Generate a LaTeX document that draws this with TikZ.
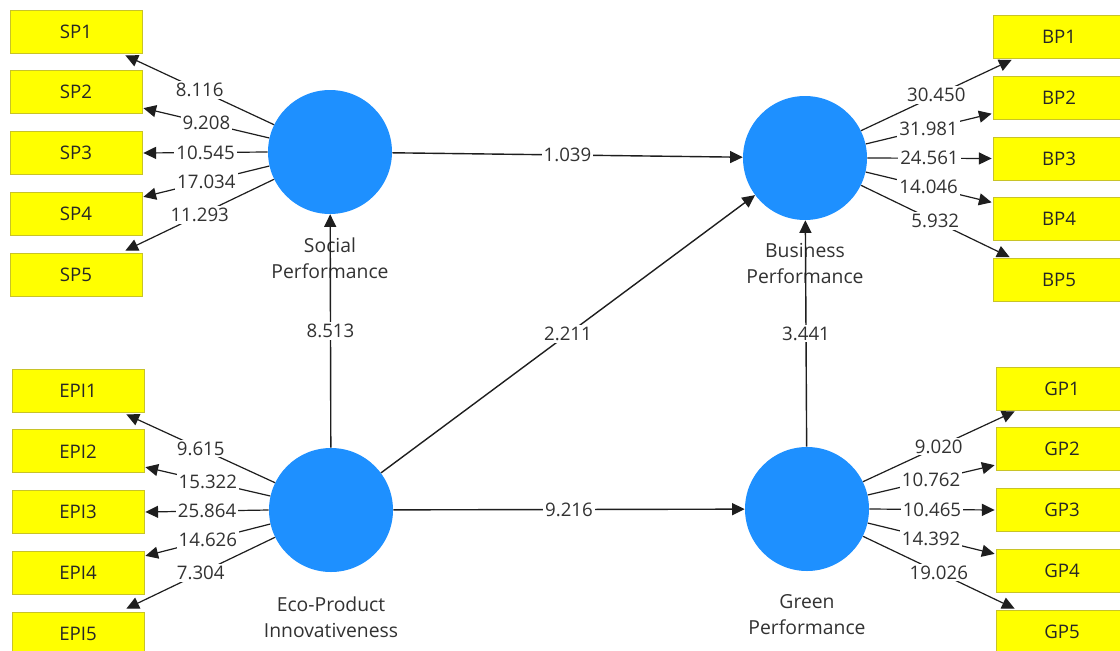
\documentclass[tikz,border=0pt]{standalone}
\usepackage{fontspec}
\setmainfont{Open Sans}
\usetikzlibrary{arrows.meta,calc}
\definecolor{lvblue}{RGB}{30,144,255}
\definecolor{indyellow}{RGB}{255,255,0}
\definecolor{indborder}{RGB}{200,195,40}
\definecolor{linegray}{RGB}{30,30,30}
\definecolor{txtgray}{RGB}{50,50,50}
\begin{document}
\begin{tikzpicture}[x=0.75pt,y=-0.75pt,
  lv/.style={circle,fill=lvblue,draw=none,minimum size=93pt,inner sep=0pt},
  ind/.style={rectangle,fill=indyellow,draw=indborder,line width=0.6pt,minimum width=99pt,minimum height=32.25pt,inner sep=0pt,font=\fontsize{14}{17}\selectfont,text=black!85},
  lvcaption/.style={align=center,font=\fontsize{14.5}{19.5}\selectfont,text=txtgray,inner sep=0pt},
  lbl/.style={fill=white,inner sep=1.5pt,font=\fontsize{14}{17}\selectfont,text=txtgray},
  arr/.style={draw=linegray,line width=1.05pt,-{Triangle[length=9.5pt,width=9pt]}},
  larr/.style={draw=linegray,line width=0.9pt,-{Triangle[length=9.5pt,width=9pt]}}]
\clip (0,0) rectangle (1120,650);
\fill[white] (0,0) rectangle (1120,650);

% latent variables
\node[lv] (SP) at (330,152) {};
\node[lv] (BP) at (805,158) {};
\node[lv] (EPI) at (331,510) {};
\node[lv] (GP) at (807,509) {};

% indicators
\foreach \i in {1,...,5}{
  \pgfmathsetmacro\ya{31.5+60.75*(\i-1)}
  \pgfmathsetmacro\yb{37+60.75*(\i-1)}
  \pgfmathsetmacro\yc{390.5+60.75*(\i-1)}
  \pgfmathsetmacro\yd{388.5+60.75*(\i-1)}
  \node[ind] (SP\i) at (76,\ya) {SP\i};
  \node[ind] (BP\i) at (1059,\yb) {BP\i};
  \node[ind] (EPI\i) at (78,\yc) {EPI\i};
  \node[ind] (GP\i) at (1062,\yd) {GP\i};
}

% captions
\node[lvcaption] (SPt) at (330,258) {Social\\Performance};
\node[lvcaption] (BPt) at (805,263.5) {Business\\Performance};
\node[lvcaption] (EPIt) at (331,617) {Eco-Product\\Innovativeness};
\node[lvcaption] (GPt) at (807,615) {Green\\Performance};

% structural paths
\draw[arr] (SP) -- (BP) node[lbl,midway]{1.039};
\draw[arr] (EPI) -- (SP) node[lbl,midway]{8.513};
\draw[arr] (EPI) -- (BP) node[lbl,midway]{2.211};
\draw[arr] (GP) -- (BP) node[lbl,midway]{3.441};
\draw[arr] (EPI) -- (GP) node[lbl,midway]{9.216};

% Social Performance loadings
\draw[larr] (SP.154) -- ($(SP1.south east)+(-17,2)$) node[lbl,midway]{8.116};
\draw[larr] (SP.167) -- ($(SP2.south east)+(1,-6)$) node[lbl,midway]{9.208};
\draw[larr] (SP.180) -- ($(SP3.east)+(1,0)$) node[lbl,midway]{10.545};
\draw[larr] (SP.193) -- ($(SP4.north east)+(1,5)$) node[lbl,midway]{17.034};
\draw[larr] (SP.206) -- ($(SP5.north east)+(-17,-2)$) node[lbl,midway]{11.293};

% Business Performance loadings
\draw[larr] (BP.26) -- ($(BP1.south west)+(19,1)$) node[lbl,midway]{30.450};
\draw[larr] (BP.13) -- ($(BP2.south west)+(-1,-6)$) node[lbl,midway]{31.981};
\draw[larr] (BP.0) -- ($(BP3.west)+(-1,0)$) node[lbl,midway]{24.561};
\draw[larr] (BP.-13) -- ($(BP4.north west)+(-1,5)$) node[lbl,midway]{14.046};
\draw[larr] (BP.-26) -- ($(BP5.north west)+(17,-1)$) node[lbl,midway]{5.932};

% Eco-Product Innovativeness loadings
\draw[larr] (EPI.154) -- ($(EPI1.south east)+(-18,2)$) node[lbl,midway]{9.615};
\draw[larr] (EPI.167) -- ($(EPI2.south east)+(1,-6)$) node[lbl,midway]{15.322};
\draw[larr] (EPI.180) -- ($(EPI3.east)+(1,0)$) node[lbl,midway]{25.864};
\draw[larr] (EPI.193) -- ($(EPI4.north east)+(1,5)$) node[lbl,midway]{14.626};
\draw[larr] (EPI.206) -- ($(EPI5.north east)+(-18,-3)$) node[lbl,midway]{7.304};

% Green Performance loadings
\draw[larr] (GP.26) -- ($(GP1.south west)+(19,1)$) node[lbl,midway]{9.020};
\draw[larr] (GP.13) -- ($(GP2.south west)+(-1,-6)$) node[lbl,midway]{10.762};
\draw[larr] (GP.0) -- ($(GP3.west)+(-1,0)$) node[lbl,midway]{10.465};
\draw[larr] (GP.-13) -- ($(GP4.north west)+(-1,5)$) node[lbl,midway]{14.392};
\draw[larr] (GP.-26) -- ($(GP5.north west)+(19,-1)$) node[lbl,midway]{19.026};
\end{tikzpicture}
\end{document}
